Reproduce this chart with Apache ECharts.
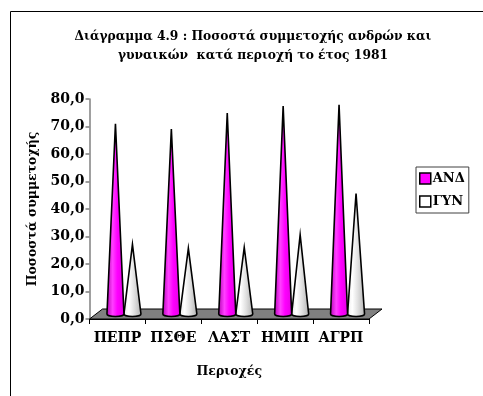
<!DOCTYPE html>
<html>
<head>
<meta charset="utf-8">
<script src="https://cdn.jsdelivr.net/npm/echarts@6/dist/echarts.min.js"></script>
<style>
html,body{margin:0;padding:0;background:#fff;}
#chart{width:483px;height:396px;}
</style>
</head>
<body>
<div id="chart"></div>
<script>
const categories = ['ΠΕΠΡ', 'ΠΣΘΕ', 'ΛΑΣΤ', 'ΗΜΙΠ', 'ΑΓΡΠ'];
const andValues = [69.2, 67.3, 73.1, 75.6, 76.1];
const gynValues = [25.3, 23.9, 24.2, 28.8, 43.8];
const seriesNames = ['ΑΝΔ', 'ΓΥΝ'];
const titleText = 'Διάγραμμα 4.9 : Ποσοστά συμμετοχής ανδρών και\nγυναικών  κατά περιοχή το έτος 1981';
const yAxisName = 'Ποσοστά συμμετοχής';
const xAxisName = 'Περιοχές';

const FONT = 'DejaVu Serif';
const DX = 6.5, DY = -5, CONE_W = 17;

function coneRenderer(side, grad) {
  return function (params, api) {
    const ci = api.value(0), v = api.value(1);
    const base = api.coord([ci, 0]);
    const tip = api.coord([ci, v]);
    const cx = base[0] + DX + side * (CONE_W / 2);
    const by = base[1] + DY;
    const ty = tip[1] + DY;
    const hw = CONE_W / 2;
    const d = 'M' + cx + ',' + ty + ' L' + (cx - hw) + ',' + by +
      ' A' + hw + ',2.5 0 0 0 ' + (cx + hw) + ',' + by + ' Z';
    return {
      type: 'path',
      shape: { pathData: d },
      style: {
        fill: new echarts.graphic.LinearGradient(0, 0, 1, 0, grad),
        stroke: '#000',
        lineWidth: 1.6
      }
    };
  };
}

function floorRenderer(params, api) {
  const cs = params.coordSys;
  const x = cs.x, y = cs.y + cs.height, w = cs.width;
  return {
    type: 'polygon',
    shape: { points: [[x, y], [x + w, y], [x + w + 13, y - 10], [x + 13, y - 10]] },
    style: { fill: '#808080', stroke: '#000', lineWidth: 1 },
    z2: 0
  };
}

const chart = echarts.init(document.getElementById('chart'));
chart.setOption({
  backgroundColor: '#fff',
  animation: false,
  title: {
    text: titleText,
    left: 248,
    textAlign: 'center',
    top: 22,
    textStyle: { fontFamily: FONT, fontWeight: 'bold', fontSize: 12.3, lineHeight: 19, color: '#000' }
  },
  graphic: [{
    type: 'rect',
    shape: { x: 10.5, y: 11.5, width: 490, height: 400 },
    style: { fill: 'none', stroke: '#000', lineWidth: 1 },
    silent: true
  }],
  legend: {
    orient: 'vertical',
    left: 416,
    top: 167,
    padding: [5, 4, 5, 3],
    itemGap: 10,
    itemWidth: 11,
    itemHeight: 11,
    borderColor: '#404040',
    borderWidth: 1,
    textStyle: { fontFamily: FONT, fontWeight: 'bold', fontSize: 13, color: '#000', padding: [0, 0, 0, -3] },
    data: [
      { name: seriesNames[0], icon: 'rect', itemStyle: { color: '#FF00FF', borderColor: '#000', borderWidth: 1.5 } },
      { name: seriesNames[1], icon: 'rect', itemStyle: { color: '#FFFFFF', borderColor: '#000', borderWidth: 1.5 } }
    ]
  },
  grid: { left: 89.5, top: 99, width: 279.5, height: 220 },
  xAxis: {
    type: 'category',
    data: categories,
    boundaryGap: true,
    name: xAxisName,
    nameLocation: 'middle',
    nameGap: 46,
    nameTextStyle: { fontFamily: FONT, fontWeight: 'bold', fontSize: 12.5, color: '#000' },
    axisLine: { lineStyle: { color: '#000', width: 1 } },
    axisTick: { show: true, length: 5, interval: 0, lineStyle: { color: '#000' } },
    axisLabel: { interval: 0, fontFamily: FONT, fontWeight: 'bold', fontSize: 14, color: '#000', margin: 12 },
    splitLine: { show: false },
    z: 5
  },
  yAxis: {
    type: 'value',
    min: 0,
    max: 80,
    interval: 10,
    name: yAxisName,
    nameLocation: 'middle',
    nameGap: 50,
    nameTextStyle: { fontFamily: FONT, fontWeight: 'bold', fontSize: 12.5, color: '#000' },
    axisLine: { show: true, lineStyle: { color: '#808080', width: 1.5 } },
    axisTick: { show: true, length: 4, lineStyle: { color: '#808080', width: 1.5 } },
    axisLabel: {
      fontFamily: FONT, fontWeight: 'bold', fontSize: 14, color: '#000', margin: 5,
      formatter: function (v) { return v.toFixed(1).replace('.', ','); }
    },
    splitLine: { show: false }
  },
  series: [
    {
      name: 'floor',
      type: 'custom',
      renderItem: floorRenderer,
      data: [[0, 0]],
      z: 1,
      silent: true
    },
    {
      name: seriesNames[0],
      type: 'custom',
      renderItem: coneRenderer(-1, [
        { offset: 0, color: '#B000B0' },
        { offset: 0.35, color: '#FF40FF' },
        { offset: 0.6, color: '#FF00FF' },
        { offset: 1, color: '#E000E0' }
      ]),
      itemStyle: { color: '#FF00FF' },
      data: andValues.map(function (v, i) { return [i, v]; }),
      z: 3
    },
    {
      name: seriesNames[1],
      type: 'custom',
      renderItem: coneRenderer(1, [
        { offset: 0, color: '#E8E8E8' },
        { offset: 0.3, color: '#FFFFFF' },
        { offset: 0.6, color: '#E0E0E0' },
        { offset: 1, color: '#B0B0B0' }
      ]),
      itemStyle: { color: '#FFFFFF' },
      data: gynValues.map(function (v, i) { return [i, v]; }),
      z: 2
    }
  ]
});
</script>
</body>
</html>
